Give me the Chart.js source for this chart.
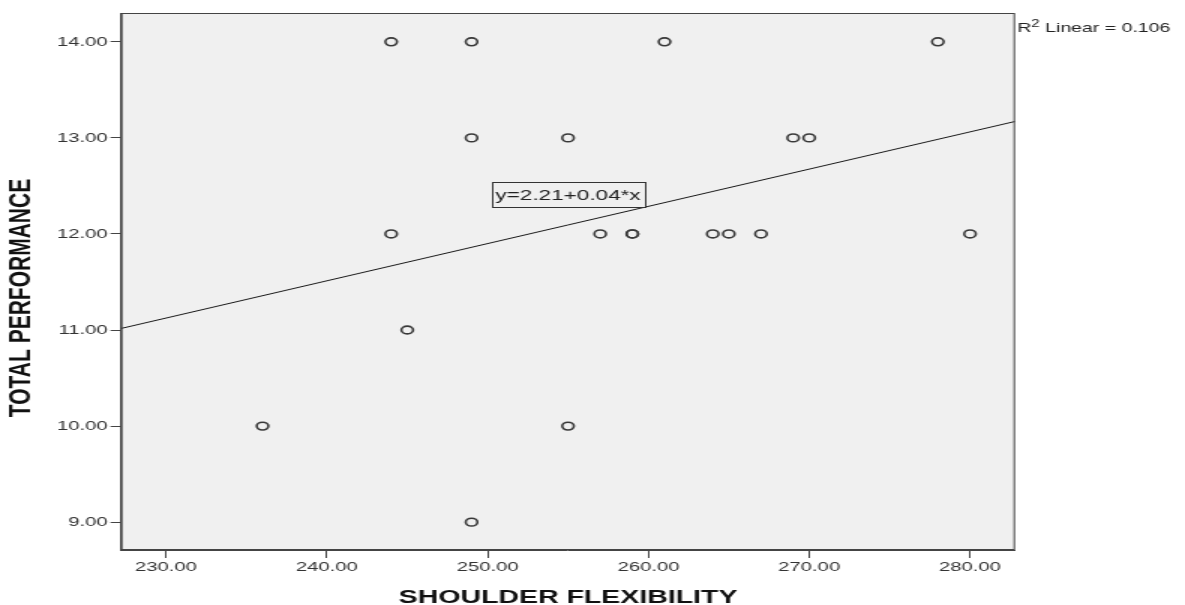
<!DOCTYPE html>
<html>
<head>
<meta charset="utf-8">
<script src="https://cdn.jsdelivr.net/npm/chart.js@4.4.1/dist/chart.umd.min.js"></script>
<style>
  html, body { margin: 0; padding: 0; background: #fff; overflow: hidden; }
  /* the chart is laid out narrow and widened horizontally */
  #wrap { width: 790px; height: 605px; transform: scaleX(1.5); transform-origin: 0 0; }
</style>
</head>
<body>
<div id="wrap"><canvas id="scatter" width="790" height="605"></canvas></div>
<script>
// one entry per subject
const flexibility = [244, 249, 261, 278, 249, 255, 269, 270, 244, 257, 259, 259, 264, 265, 267, 280, 245, 236, 255, 249];
const performance = [14, 14, 14, 14, 13, 13, 13, 13, 12, 12, 12, 12, 12, 12, 12, 12, 11, 10, 10, 9];

const xTicks = [230, 240, 250, 260, 270, 280];
const yTicks = [9, 10, 11, 12, 13, 14];
const xRange = [227.2, 282.8];
const yRange = [8.71, 14.3];

const xTitle = 'SHOULDER FLEXIBILITY';
const yTitle = 'TOTAL PERFORMANCE';
const fitLabel = 'y=2.21+0.04*x';
const r2Label = ' Linear = 0.106';

const FONT = '"Liberation Sans", Arial, sans-serif';
Chart.defaults.font.family = FONT;

function linearFit(xs, ys) {
  const n = xs.length;
  const mx = xs.reduce((a, b) => a + b, 0) / n;
  const my = ys.reduce((a, b) => a + b, 0) / n;
  let sxy = 0, sxx = 0;
  xs.forEach((x, i) => {
    sxy += (x - mx) * (ys[i] - my);
    sxx += (x - mx) * (x - mx);
  });
  const slope = sxy / sxx;
  return { slope, intercept: my - slope * mx };
}

const fit = linearFit(flexibility, performance);
const fitAt = x => fit.intercept + fit.slope * x;

// plot background, frame, y title and the two annotations
const frame = {
  id: 'frame',
  beforeDraw(chart) {
    const { ctx, chartArea: a } = chart;
    ctx.save();
    ctx.fillStyle = '#f0f0f0';
    ctx.fillRect(a.left, a.top, a.right - a.left, a.bottom - a.top);
    ctx.restore();
  },
  afterDraw(chart) {
    const { ctx, chartArea: a, scales: { x, y } } = chart;
    ctx.save();
    ctx.strokeStyle = '#444';
    ctx.lineWidth = 1;
    ctx.strokeRect(a.left + 0.5, a.top + 0.5, a.right - a.left - 1, a.bottom - a.top - 1);

    // vertical axis title, sits a little below the middle of the axis
    ctx.save();
    ctx.translate(14, 298);
    ctx.rotate(-Math.PI / 2);
    ctx.font = 'bold 21px ' + FONT;
    ctx.fillStyle = '#111';
    ctx.textAlign = 'center';
    ctx.textBaseline = 'middle';
    ctx.fillText(yTitle, 0, 0);
    ctx.restore();

    // equation box
    ctx.font = '15px ' + FONT;
    ctx.textAlign = 'center';
    ctx.textBaseline = 'middle';
    const cx = x.getPixelForValue(255);
    const cy = y.getPixelForValue(12.41);
    const w = Math.round(ctx.measureText(fitLabel).width + 5);
    const h = 25;
    const bx = Math.round(cx - w / 2);
    const by = Math.round(cy - h / 2);
    ctx.fillStyle = '#f0f0f0';
    ctx.fillRect(bx, by, w, h);
    ctx.strokeStyle = '#333';
    ctx.strokeRect(bx + 0.5, by + 0.5, w, h);
    ctx.fillStyle = '#222';
    ctx.fillText(fitLabel, cx, cy + 1);

    // R squared note to the right of the frame
    ctx.textAlign = 'left';
    ctx.textBaseline = 'alphabetic';
    let tx = a.right + 1.5;
    const ty = 32;
    ctx.font = '13px ' + FONT;
    ctx.fillText('R', tx, ty);
    tx += ctx.measureText('R').width;
    ctx.font = '10px ' + FONT;
    ctx.fillText('2', tx, ty - 5);
    tx += ctx.measureText('2').width;
    ctx.font = '13px ' + FONT;
    ctx.fillText(r2Label, tx, ty);
    ctx.restore();
  }
};

const points = flexibility.map((v, i) => ({ x: v, y: performance[i] }));

new Chart(document.getElementById('scatter'), {
  type: 'scatter',
  data: {
    datasets: [{
      data: points,
      pointStyle: 'circle',
      pointRadius: 3.9,
      borderWidth: 1.6,
      borderColor: '#383838',
      backgroundColor: 'rgba(0,0,0,0)'
    }, {
      type: 'line',
      data: xRange.map(v => ({ x: v, y: fitAt(v) })),
      borderColor: '#1a1a1a',
      borderWidth: 1,
      pointRadius: 0,
      fill: false
    }]
  },
  options: {
    responsive: false,
    animation: false,
    events: [],
    layout: { padding: { left: 0, right: 113.3, top: 13, bottom: 0 } },
    plugins: { legend: { display: false }, tooltip: { enabled: false } },
    scales: {
      x: {
        type: 'linear',
        min: xRange[0],
        max: xRange[1],
        afterBuildTicks: s => { s.ticks = xTicks.map(v => ({ value: v })); },
        afterFit: s => { s.height = 55; },
        ticks: {
          callback: v => v.toFixed(2),
          font: { size: 13.5 },
          color: '#333',
          padding: 1,
          maxRotation: 0,
          autoSkip: false
        },
        grid: { drawOnChartArea: false, tickLength: 8, color: '#444' },
        border: { color: '#444' },
        title: {
          display: true,
          text: xTitle,
          font: { size: 19, weight: 'bold', lineHeight: 0.8 },
          color: '#111',
          padding: 0
        }
      },
      y: {
        type: 'linear',
        min: yRange[0],
        max: yRange[1],
        afterBuildTicks: s => { s.ticks = yTicks.map(v => ({ value: v })); },
        afterFit: s => { s.width = 80.7; },
        ticks: {
          callback: v => v.toFixed(2),
          font: { size: 13.5 },
          color: '#333',
          padding: 2,
          autoSkip: false
        },
        grid: { drawOnChartArea: false, tickLength: 7, color: '#444' },
        border: { color: '#444' },
        title: { display: false }
      }
    }
  },
  plugins: [frame]
});
</script>
</body>
</html>
